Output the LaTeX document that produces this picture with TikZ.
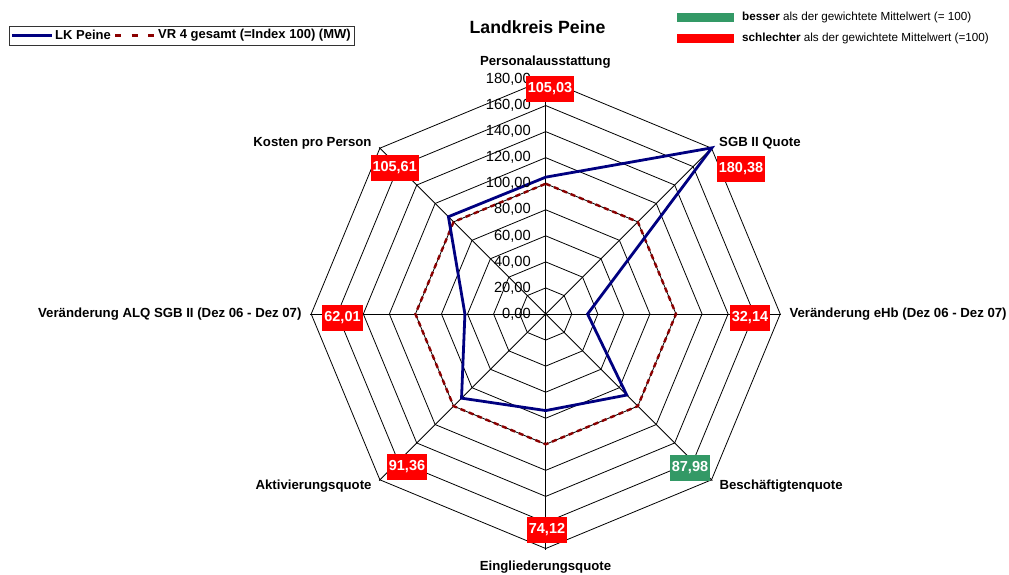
\documentclass[tikz,border=0pt]{standalone}
\usepackage{fontspec}
\setmainfont{Liberation Sans}
\usetikzlibrary{positioning}
\definecolor{besser}{HTML}{339966}
\definecolor{schlechter}{HTML}{FF0000}
\definecolor{lkblau}{HTML}{000080}
\definecolor{vrrot}{HTML}{8B0000}
\tikzset{
	x=1pt, y=-1pt,
	netz/.style={black, line width=0.8pt},
	lk/.style={lkblau, line width=2.8pt, line join=miter},
	vr/.style={vrrot, line width=2.4pt, dash pattern=on 5pt off 4pt},
	achse/.style={inner sep=0pt, font=\fontsize{13.2}{14}\selectfont\bfseries},
	skala/.style={inner sep=0pt, anchor=east, font=\fontsize{14.7}{15}\selectfont},
	wert/.style={fill=schlechter, text=white, inner xsep=2pt, inner ysep=0pt,
		minimum height=26pt, font=\fontsize{14.5}{15}\selectfont\bfseries},
	gut/.style={wert, fill=besser},
	legtext/.style={inner sep=0pt, anchor=west, font=\fontsize{13}{14}\selectfont\bfseries},
	farbe/.style={minimum width=57pt, minimum height=9pt, inner sep=0pt},
	hinweis/.style={inner sep=0pt, font=\fontsize{11.7}{13}\selectfont}}

\begin{document}
\begin{tikzpicture}
	\useasboundingbox (0,0) rectangle (1009,574);
	\node[inner sep=0pt, font=\fontsize{17.7}{19}\selectfont\bfseries] (titel) at (537.5,26.7) {Landkreis Peine};

	\begin{scope}[shift={(545.7,314)}]
		\coordinate (mitte) at (0,0);
		\foreach \r in {20,40,...,180}
			\draw[netz] ({-90}:{\r*1.3028}) \foreach \a in {-45,0,...,225} { -- ({\a}:{\r*1.3028}) } -- cycle;
		\foreach \a in {-90,-45,...,225}
			\draw[netz] (mitte) -- ({\a}:235.5);

		\foreach \v [count=\i from 0] in {105.03,180.38,32.14,87.98,74.12,91.36,62.01,105.61}
			\coordinate (lk\i) at ({-90+45*\i}:{\v*1.3028});
		\foreach \i in {0,...,7}
			\coordinate (vr\i) at ({-90+45*\i}:130.28);
	\end{scope}

	\draw[vr] (vr0) -- (vr1) -- (vr2) -- (vr3) -- (vr4) -- (vr5) -- (vr6) -- (vr7) -- cycle;
	\draw[lk] (lk0) -- (lk1) -- (lk2) -- (lk3) -- (lk4) -- (lk5) -- (lk6) -- (lk7) -- cycle;

	\foreach \w [count=\k from 0] in {0,20,...,180}
		\node[skala] (skala\k) at (531,{314-\k*26.06}) {\w,00};

	\node[achse] (achse0) at (545.3,61.7) {Personalausstattung};
	\node[achse, anchor=west] (achse1) at (719,143.3) {SGB II Quote};
	\node[achse, anchor=west] (achse2) at (789.3,314.3) {Veränderung eHb (Dez 06 - Dez 07)};
	\node[achse, anchor=west] (achse3) at (719.3,485.7) {Beschäftigtenquote};
	\node[achse] (achse4) at (545.5,567) {Eingliederungsquote};
	\node[achse, anchor=east] (achse5) at (371.7,485.7) {Aktivierungsquote};
	\node[achse, anchor=east] (achse6) at (301.7,314) {Veränderung ALQ SGB II (Dez 06 - Dez 07)};
	\node[achse, anchor=east] (achse7) at (371.7,143.3) {Kosten pro Person};

	\node[wert] (wert0) at (550,89) {105,03};
	\node[wert] (wert1) at (741,169) {180,38};
	\node[wert] (wert2) at (750,317.5) {32,14};
	\node[gut] (wert3) at (690,468) {87,98};
	\node[wert] (wert4) at (547,530) {74,12};
	\node[wert] (wert5) at (407,467) {91,36};
	\node[wert] (wert6) at (342.5,317.5) {62,01};
	\node[wert] (wert7) at (394.7,167.5) {105,61};

	\node[draw=black!80, line width=0.8pt, minimum width=345pt, minimum height=19pt, inner sep=0pt] (legende) at (181.5,35.5) {};
	\coordinate (lkA) at (12,35);
	\coordinate (lkB) at (52,35);
	\draw[lk, line width=3pt] (lkA) -- (lkB);
	\node[legtext, right=3pt of lkB] (lktext) {LK Peine};
	\coordinate (vrA) at (115,35);
	\coordinate (vrB) at (154,35);
	\draw[vr, line width=3pt, dash pattern=on 6pt off 10.7pt] (vrA) -- (vrB);
	\node[legtext, right=4pt of vrB] (vrtext) {VR 4 gesamt (=Index 100) (MW)};

	\node[farbe, fill=besser] (gruen) at (705.5,17.2) {};
	\node[hinweis, right=7.7pt of gruen] (bessertext) {\textbf{besser} als der gewichtete Mittelwert (= 100)};
	\node[farbe, fill=schlechter] (rot) at (705.5,38.7) {};
	\node[hinweis, right=7.7pt of rot] (schlechtertext) {\textbf{schlechter} als der gewichtete Mittelwert (=100)};
\end{tikzpicture}
\end{document}
